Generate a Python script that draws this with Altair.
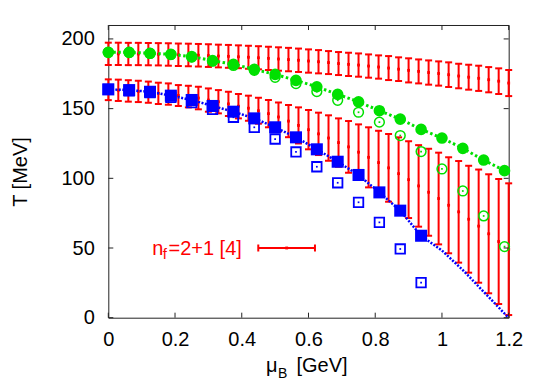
import altair as alt
import pandas as pd

RED = "#ff0000"
GREEN = "#00e000"
BLUE = "#0000ff"
FONT = "Liberation Sans"

# ---- red error-bar bands (mu in GeV, T in MeV) ----
mu_band = [0.00, 0.03, 0.06, 0.09, 0.12, 0.15, 0.18, 0.21, 0.24, 0.27,
           0.30, 0.33, 0.36, 0.39, 0.42, 0.45, 0.48, 0.51, 0.54, 0.57,
           0.60, 0.63, 0.66, 0.69, 0.72, 0.75, 0.78, 0.81, 0.84, 0.87,
           0.90, 0.93, 0.96, 0.99, 1.02, 1.05, 1.08, 1.11, 1.14, 1.17, 1.20]
upper_hi = [197.3, 197.3, 197.2, 197.2, 197.1, 197.0, 196.9, 196.7, 196.6, 196.4,
            196.2, 195.9, 195.7, 195.4, 195.1, 194.8, 194.4, 194.0, 193.6, 193.1,
            192.5, 192.0, 191.3, 190.6, 190.1, 189.6, 188.9, 188.2, 187.7, 186.8,
            186.1, 185.3, 184.6, 183.9, 183.2, 182.2, 181.5, 180.8, 179.8, 178.9, 177.7]
upper_lo = [181.3, 181.3, 181.2, 181.2, 181.1, 181.0, 180.8, 180.6, 180.4, 180.2,
            179.9, 179.6, 179.3, 179.0, 178.6, 178.2, 177.7, 177.2, 176.8, 176.3,
            175.8, 175.3, 174.8, 174.1, 173.4, 172.9, 172.2, 171.5, 170.5, 169.8,
            168.8, 168.1, 167.2, 166.5, 165.5, 164.6, 163.6, 162.7, 161.7, 160.5, 159.0]
lower_hi = [171.0, 170.8, 170.4, 170.0, 169.4, 168.6, 168.1, 166.9, 166.4, 165.7,
            164.5, 163.3, 162.1, 160.5, 159.3, 157.8, 156.2, 154.4, 152.6, 150.9,
            149.0, 147.1, 145.2, 143.0, 141.1, 138.7, 136.6, 134.1, 131.8, 129.4,
            126.6, 123.8, 121.2, 118.4, 115.1, 112.4, 109.0, 106.3, 102.9, 99.5, 96.4]
lower_lo = [156.1, 155.5, 155.0, 154.7, 154.2, 153.3, 152.8, 151.9, 150.9, 149.5,
            147.8, 146.6, 144.7, 143.0, 141.3, 139.2, 136.6, 133.6, 129.5, 125.0,
            120.8, 116.7, 112.6, 108.3, 104.0, 98.8, 93.5, 88.5, 83.2, 77.3,
            71.5, 65.3, 58.8, 52.6, 46.2, 39.5, 32.3, 25.1, 17.5, 9.8, 1.9]

# ---- point series ----
mu_pts = [0.0, 0.0625, 0.125, 0.1875, 0.25, 0.3125, 0.375, 0.4375, 0.5, 0.5625,
          0.625, 0.6875, 0.75, 0.8125, 0.875, 0.9375, 1.0, 1.0625, 1.125, 1.1875]
green_filled = [190.4, 190.4, 189.7, 189.0, 187.3, 184.4, 181.8, 178.2, 174.6, 170.3,
                165.7, 160.2, 154.9, 148.5, 142.5, 135.1, 128.9, 121.5, 113.1, 105.5]
green_open = [190.4, 190.3, 189.6, 188.8, 187.0, 184.0, 181.0, 177.5, 172.5, 168.0,
              162.2, 156.0, 147.4, 140.3, 130.7, 119.2, 106.7, 90.9, 73.0, 51.0]
mu_blue = [0.0, 0.0625, 0.125, 0.1875, 0.25, 0.3125, 0.375, 0.4375, 0.5, 0.5625,
           0.625, 0.6875, 0.75, 0.8125, 0.875, 0.9375]
blue_filled = [163.8, 163.3, 162.1, 159.3, 156.2, 151.9, 147.8, 143.0, 136.6, 129.4,
               120.8, 111.9, 102.4, 89.9, 76.8, 58.8]
blue_open = [163.8, 162.8, 161.5, 158.1, 154.3, 149.5, 143.8, 136.6, 128.2, 118.9,
             108.3, 96.8, 82.8, 68.4, 49.3, 25.1]
blue_line_mu = mu_blue + [1.0, 1.0625, 1.125, 1.1875, 1.2]
blue_line_T = blue_filled + [48.2, 34.2, 18.6, 3.0, 0.0]

x_ticks = [0.0, 0.2, 0.4, 0.6, 0.8, 1.0, 1.2]
y_ticks = [0, 50, 100, 150, 200]

# legend sample
leg_mu = [0.4495, 0.5346, 0.6194]
leg_T = 50

XS = alt.Scale(domain=[0, 1.2], nice=False, zero=False)
YS = alt.Scale(domain=[0, 210], nice=False, zero=False)
XA = alt.Axis(values=x_ticks, format=".1~f", labelPadding=12, title=None,
              labelFlush=False, labelOverlap=False)
YA = alt.Axis(values=y_ticks, labelPadding=14, title="T [MeV]",
              labelFlush=False, labelOverlap=False,
              titleX=-87.5, titleY=146.5, titleAngle=270,
              titleAlign="center", titleBaseline="middle")


def X(f):
    return alt.X(f, type="quantitative", scale=XS, axis=XA)


def Y(f):
    return alt.Y(f, type="quantitative", scale=YS, axis=YA)


band = pd.concat([
    pd.DataFrame({"mu": mu_band, "hi": upper_hi, "lo": upper_lo}),
    pd.DataFrame({"mu": mu_band, "hi": lower_hi, "lo": lower_lo}),
], ignore_index=True)
band["mid"] = (band["hi"] + band["lo"]) / 2

green = pd.DataFrame({"mu": mu_pts, "filled": green_filled, "open": green_open})
blue = pd.DataFrame({"mu": mu_blue, "filled": blue_filled, "open": blue_open})
blue_line = pd.DataFrame({"mu": blue_line_mu, "T": blue_line_T})

bars = alt.Chart(band).mark_rule(color=RED, strokeWidth=2).encode(
    x=X("mu"), y=Y("lo"), y2="hi")
caps_hi = alt.Chart(band).mark_tick(orient="horizontal", color=RED, size=7, thickness=2, opacity=1).encode(
    x=X("mu"), y=Y("hi"))
caps_lo = alt.Chart(band).mark_tick(orient="horizontal", color=RED, size=7, thickness=2, opacity=1).encode(
    x=X("mu"), y=Y("lo"))
mids = alt.Chart(band).mark_square(color=RED, size=8, opacity=1).encode(
    x=X("mu"), y=Y("mid"))

g_line = alt.Chart(green).mark_line(color=GREEN, strokeWidth=3, strokeDash=[2.5, 2.5]).encode(
    x=X("mu"), y=Y("filled"))
b_line = alt.Chart(blue_line).mark_line(color=BLUE, strokeWidth=2.5, strokeDash=[2, 1.5]).encode(
    x=X("mu"), y=Y("T"))

b_open = alt.Chart(blue).mark_point(shape="square", filled=False, color=BLUE, size=90,
                                    strokeWidth=1.8, opacity=1).encode(x=X("mu"), y=Y("open"))
b_open_dot = alt.Chart(blue).mark_square(color=BLUE, size=3, opacity=1).encode(x=X("mu"), y=Y("open"))
g_open = alt.Chart(green).mark_point(shape="circle", filled=False, color=GREEN, size=95,
                                     strokeWidth=1.5, opacity=1).encode(x=X("mu"), y=Y("open"))
g_open_dot = alt.Chart(green).mark_square(color=GREEN, size=3, opacity=1).encode(x=X("mu"), y=Y("open"))

g_fill = alt.Chart(green).mark_circle(color=GREEN, size=135, opacity=1).encode(x=X("mu"), y=Y("filled"))
b_fill = alt.Chart(blue).mark_square(color=BLUE, size=145, opacity=1).encode(x=X("mu"), y=Y("filled"))

# inward ticks on all four sides
xt = pd.DataFrame({"mu": x_ticks})
yt = pd.DataFrame({"T": y_ticks})
TICK_COL = "#222222"
t_bottom = alt.Chart(xt).mark_rule(color=TICK_COL, strokeWidth=1).encode(
    x=X("mu"), y=Y("a:Q"), y2="b:Q").transform_calculate(a="0", b="3.6")
t_top = alt.Chart(xt).mark_rule(color=TICK_COL, strokeWidth=1).encode(
    x=X("mu"), y=Y("a:Q"), y2="b:Q").transform_calculate(a="206.4", b="210")
t_left = alt.Chart(yt).mark_rule(color=TICK_COL, strokeWidth=1).encode(
    y=Y("T"), x=X("a:Q"), x2="b:Q").transform_calculate(a="0", b="0.015")
t_right = alt.Chart(yt).mark_rule(color=TICK_COL, strokeWidth=1).encode(
    y=Y("T"), x=X("a:Q"), x2="b:Q").transform_calculate(a="1.185", b="1.2")

# legend entry
leg_bar = alt.Chart(pd.DataFrame({"a": [leg_mu[0]], "b": [leg_mu[2]], "T": [leg_T]})).mark_rule(
    color=RED, strokeWidth=2).encode(x=X("a"), x2="b", y=Y("T"))
leg_caps = alt.Chart(pd.DataFrame({"mu": [leg_mu[0], leg_mu[2]], "T": [leg_T, leg_T]})).mark_tick(
    orient="vertical", color=RED, size=7, thickness=2, opacity=1).encode(x=X("mu"), y=Y("T"))
leg_dot = alt.Chart(pd.DataFrame({"mu": [leg_mu[1]], "T": [leg_T]})).mark_square(
    color=RED, size=8, opacity=1).encode(x=X("mu"), y=Y("T"))

texts = pd.DataFrame({
    "mu": [0.1319, 0.1630, 0.1804, 0.4730, 0.5085, 0.5640],
    "T": [45.3, 41.9, 45.3, -39.0, -43.4, -39.0],
    "txt": ["n", "f", "=2+1 [4]", "μ", "B", "[GeV]"],
    "size": [20, 15, 20, 20, 14, 20],
    "col": [RED, RED, RED, "black", "black", "black"],
})
text_layer = alt.Chart(texts).mark_text(align="left", baseline="alphabetic", font=FONT).encode(
    x=X("mu"), y=Y("T"), text="txt:N",
    size=alt.Size("size:Q", scale=None, legend=None),
    color=alt.Color("col:N", scale=None, legend=None))

chart = alt.layer(
    bars, caps_hi, caps_lo, mids, g_line, b_line,
    b_open, b_open_dot, g_open, g_open_dot, g_fill, b_fill,
    t_bottom, t_top, t_left, t_right, leg_bar, leg_caps, leg_dot, text_layer,
).properties(
    width=400.4, height=292.7,
    padding={"left": 100.3, "top": 17, "right": 20, "bottom": 64},
    autosize=alt.AutoSizeParams(type="none"),
    background="white",
).configure_view(
    stroke="#222222", strokeWidth=1,
).configure_axis(
    domain=False, ticks=False, grid=False,
    labelFont=FONT, labelFontSize=20, labelColor="black",
    titleFont=FONT, titleFontSize=20, titleFontWeight="normal", titleColor="black",
)

chart.save("out.html", embed_options={"renderer": "svg", "actions": False})
